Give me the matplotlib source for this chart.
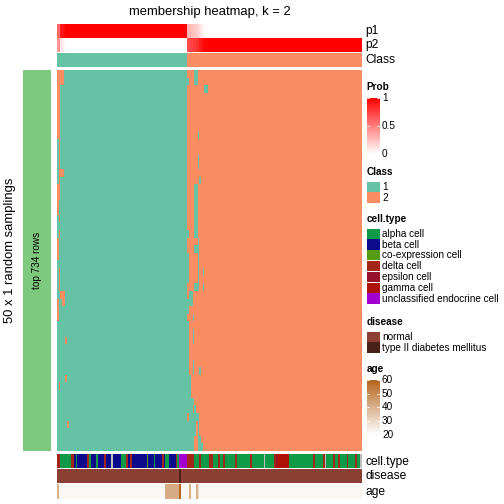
import numpy as np
import matplotlib
matplotlib.use("Agg")
import matplotlib.pyplot as plt
from matplotlib.colors import ListedColormap, LinearSegmentedColormap
from matplotlib.patches import Rectangle

plt.rcParams['font.family'] = ['Liberation Sans', 'DejaVu Sans']

# ---- data ----
n_samplings = 50
n_top_rows = 734
class_runs = [(1, 77), (2, 103)]

# p1 = probability of class 1 for each sample (column)
p1 = ([0.6, 0.55, 0.9, 0.92, 0.95] + [1.0] * 72 +
      [0.3, 0.28, 0.26, 0.24, 0.22, 0.2, 0.18, 0.12, 0.08, 0.05, 0.03, 0.02] + [0.0] * 91)

# columns that disagree with the consensus class in each sampling (row)
flips = {
    0: [0, 1, 2, 3, 81, 82], 1: [0, 1, 2, 3, 77, 81, 82], 2: [0, 1, 87, 88],
    3: [0, 1], 4: [0, 1], 5: [0, 1], 6: [0, 1], 7: [0, 1], 8: [0, 1, 83],
    9: [1], 10: [1], 11: [1, 83], 12: [1, 83], 13: [1, 2, 3], 14: [1, 84],
    15: [0, 1, 81, 82], 16: [0, 1, 81, 82], 17: [0, 81, 82], 18: [0, 81, 82],
    19: [1, 81, 82], 20: [81, 82], 21: [1, 77, 81, 82], 22: [0, 83],
    23: [0, 81, 82, 83], 24: [0, 77, 83], 25: [77, 83], 26: [1, 77, 83, 86],
    27: [1, 77, 83], 28: [1, 81, 82, 83, 86], 29: [2, 3, 4, 78, 79],
    30: [0, 3, 4, 77, 78, 79], 31: [0, 77], 32: [0, 80], 33: [77],
    34: [77, 80], 35: [5, 77, 80], 36: [77], 37: [77], 38: [77, 80],
    39: [77, 80, 84], 40: [5, 77, 78], 41: [1, 77, 78], 42: [77, 78],
    43: [77, 78, 79, 80], 44: [77, 78, 79, 81], 45: [78, 79, 80, 81, 82, 83],
    46: [6, 77, 78, 79, 80, 81, 83], 47: [77, 78, 79, 80, 81, 83],
    48: [77, 78, 79, 80, 83, 84], 49: [77, 78, 79, 80, 83, 84, 85],
}

cell_type_names = ["alpha cell", "beta cell", "co-expression cell", "delta cell",
                   "epsilon cell", "gamma cell", "unclassified endocrine cell"]
cell_type_runs = [
    ("delta cell", 2), ("alpha cell", 6), ("delta cell", 2), ("beta cell", 1),
    ("alpha cell", 1), ("beta cell", 6), ("delta cell", 1), ("alpha cell", 1),
    ("beta cell", 3), ("alpha cell", 1), ("beta cell", 4), ("delta cell", 1),
    ("beta cell", 3), (None, 1), ("beta cell", 5), ("alpha cell", 3),
    ("delta cell", 1), ("beta cell", 1), ("delta cell", 1), ("beta cell", 9),
    ("co-expression cell", 1), ("beta cell", 3), ("alpha cell", 1), ("beta cell", 4),
    ("delta cell", 1), ("beta cell", 1), ("alpha cell", 2), ("beta cell", 4),
    ("delta cell", 1), ("alpha cell", 1), ("unclassified endocrine cell", 5),
    ("delta cell", 4), ("alpha cell", 3), ("delta cell", 1), ("alpha cell", 5),
    ("delta cell", 2), ("alpha cell", 3), ("delta cell", 1), ("alpha cell", 2),
    ("delta cell", 1), ("alpha cell", 6), ("delta cell", 1), ("alpha cell", 8),
    ("delta cell", 1), ("alpha cell", 7), (None, 1), ("alpha cell", 5),
    ("delta cell", 1), ("epsilon cell", 1), ("gamma cell", 7), ("alpha cell", 14),
    ("delta cell", 1), ("alpha cell", 5), ("delta cell", 1), (None, 1),
    ("alpha cell", 4), ("delta cell", 1), ("alpha cell", 2), ("delta cell", 1),
    ("alpha cell", 4), ("delta cell", 1), ("alpha cell", 4), ("delta cell", 1),
    ("alpha cell", 2), (None, 1),
]
disease_names = ["normal", "type II diabetes mellitus"]
disease_runs = [("normal", 72), ("type II diabetes mellitus", 1), ("normal", 107)]
age_runs = [(40, 1), (22, 63), (42, 8), (60, 1), (22, 5), (40, 1), (22, 3),
            (40, 1), (30, 1), (22, 96)]

# ---- colours ----
class_colors = ["#66C2A5", "#FC8D62"]
cell_type_colors = ["#0E9A47", "#0B0B8C", "#559C13", "#A3261A",
                    "#96122C", "#AE1108", "#A100D1"]
na_color = "#BEBEBE"
disease_colors = ["#8B4033", "#4A2116"]
prob_cmap = LinearSegmentedColormap.from_list("prob", ["white", "red"])
age_cmap = LinearSegmentedColormap.from_list("age", ["white", "#B5651D"])


def expand(runs):
    out = []
    for v, n in runs:
        out += [v] * n
    return out


cls = np.array(expand(class_runs))
n_cols = len(cls)
member = np.tile(cls, (n_samplings, 1))
for r, cols in flips.items():
    member[r, cols] = 3 - member[r, cols]

ct = expand(cell_type_runs)
ct_idx = np.array([len(cell_type_names) if c is None else cell_type_names.index(c) for c in ct])
dis_idx = np.array([disease_names.index(d) for d in expand(disease_runs)])
age = np.array(expand(age_runs), dtype=float)
p1 = np.array(p1)

W = H = 504
fig = plt.figure(figsize=(W / 72, H / 72), dpi=72)


def px_axes(x0, y0, x1, y1):
    a = fig.add_axes([x0 / W, 1 - y1 / H, (x1 - x0) / W, (y1 - y0) / H])
    a.set_axis_off()
    return a


def strip(y0, y1, values, cmap, vmin, vmax):
    a = px_axes(57, y0, 362, y1)
    a.imshow(values[None, :], aspect="auto", interpolation="nearest",
             cmap=cmap, vmin=vmin, vmax=vmax)
    return a


# top annotations
strip(24, 37.7, p1, prob_cmap, 0, 1)
strip(38.3, 51.7, 1 - p1, prob_cmap, 0, 1)
strip(52.7, 66.7, cls, ListedColormap(class_colors), 1, 2)

# main heatmap
ax = px_axes(57, 70, 362, 450.5)
ax.imshow(member, aspect="auto", interpolation="nearest",
          cmap=ListedColormap(class_colors), vmin=1, vmax=2)

# bottom annotations
strip(454, 468, ct_idx, ListedColormap(cell_type_colors + [na_color]), 0, len(cell_type_names))
strip(469, 482.5, dis_idx, ListedColormap(disease_colors), 0, 1)
strip(484, 498.5, age, age_cmap, 20, 60)

# left row block
lb = px_axes(23, 70, 51, 450.5)
lb.add_patch(Rectangle((0, 0), 1, 1, color="#7FC97F", transform=lb.transAxes))
lb.text(0.5, 0.5, f"top {n_top_rows} rows", rotation=90, ha="center", va="center",
        fontsize=10, transform=lb.transAxes)

# overlay in pixel coordinates for texts and legends
ov = fig.add_axes([0, 0, 1, 1])
ov.set_xlim(0, W)
ov.set_ylim(H, 0)
ov.set_axis_off()

ov.text(209.5, 12, "membership heatmap, k = 2", ha="center", va="center", fontsize=13)
ov.text(10, 250, f"{n_samplings} x 1 random samplings", rotation=90,
        ha="center", va="center", fontsize=13)
for lab, y in [("p1", 31), ("p2", 45), ("Class", 60),
               ("cell.type", 461.5), ("disease", 476), ("age", 491.5)]:
    ov.text(365, y, lab, ha="left", va="center", fontsize=12)

lx = 367
fs = 10


def legend_title(y, t):
    ov.text(lx - 0.5, y, t, ha="left", va="center", fontsize=fs, fontweight="bold")


def legend_boxes(y0, labels, colors, step=10.8):
    for i, (lab, col) in enumerate(zip(labels, colors)):
        y = y0 + i * step
        ov.add_patch(Rectangle((lx, y), 12.5, step - 0.6, facecolor=col, edgecolor="none"))
        ov.text(lx + 15, y + step / 2, lab, ha="left", va="center", fontsize=fs)


def legend_colorbar(y_top, y_bot, cmap, vmin, vmax, ticks):
    a = px_axes(lx, y_top, lx + 12.5, y_bot)
    grad = np.linspace(vmax, vmin, 100)[:, None]
    a.imshow(grad, aspect="auto", cmap=cmap, vmin=vmin, vmax=vmax,
             extent=[0, 1, vmin, vmax])
    a.set_ylim(vmin, vmax)
    for t in ticks:
        a.plot([0, 0.18], [t, t], color="white", lw=0.8)
        a.plot([0.82, 1], [t, t], color="white", lw=0.8)
        y = y_bot - (t - vmin) / (vmax - vmin) * (y_bot - y_top)
        ov.text(lx + 15, y, f"{t:g}", ha="left", va="center", fontsize=fs)


legend_title(87, "Prob")
legend_colorbar(98, 154, prob_cmap, 0, 1, [0, 0.5, 1])

legend_title(172, "Class")
legend_boxes(181.5, ["1", "2"], class_colors)

legend_title(219, "cell.type")
legend_boxes(228.5, cell_type_names, cell_type_colors)

legend_title(322, "disease")
legend_boxes(331.5, disease_names, disease_colors)

legend_title(369, "age")
legend_colorbar(380, 434.7, age_cmap, 20, 60, [20, 30, 40, 50, 60])

fig.savefig("out.png", dpi=72)
